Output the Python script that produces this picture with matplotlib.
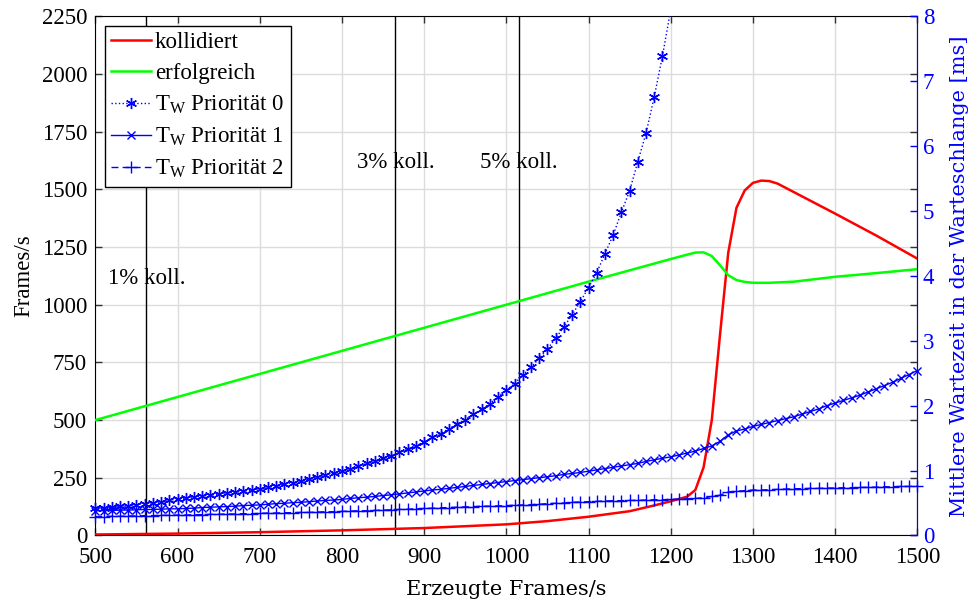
import matplotlib
matplotlib.use("Agg")
import matplotlib.pyplot as plt
from matplotlib.transforms import Bbox, TransformedBbox
import numpy as np

plt.rcParams['font.family'] = ['Liberation Serif', 'DejaVu Serif']
plt.rcParams['mathtext.fontset'] = 'custom'
plt.rcParams['mathtext.rm'] = 'Liberation Serif'
plt.rcParams['mathtext.it'] = 'Liberation Serif:italic'

# ---------------- data ----------------
red_x = [500, 550, 600, 650, 700, 750, 800, 850, 900, 950, 1000, 1050, 1100, 1150, 1180,
         1200, 1220, 1230, 1240, 1250, 1260, 1270, 1280, 1290, 1300, 1310, 1320, 1330,
         1400, 1450, 1500]
red_y = [4, 6, 8, 11, 14, 18, 22, 27, 32, 40, 48, 62, 81, 105, 130,
         148, 168, 197, 295, 500, 870, 1225, 1420, 1495, 1528, 1538, 1536, 1525,
         1395, 1300, 1200]

green_x = [500, 600, 700, 800, 900, 1000, 1100, 1200, 1220, 1230, 1240, 1250, 1260,
           1270, 1280, 1290, 1300, 1320, 1350, 1400, 1450, 1500]
green_y = [500, 600, 700, 800, 900, 1000, 1100, 1198, 1217, 1226, 1227, 1211, 1171,
           1128, 1107, 1099, 1095, 1095, 1100, 1121, 1137, 1154]

p0_x = list(range(500, 1201, 10))
p0_y = [0.42, 0.43, 0.44, 0.45, 0.46, 0.475, 0.49, 0.50, 0.52, 0.54,
        0.56, 0.575, 0.59, 0.605, 0.62, 0.635, 0.65, 0.665, 0.68, 0.695,
        0.715, 0.74, 0.765, 0.79, 0.815, 0.84, 0.87, 0.90, 0.93, 0.96,
        0.99, 1.03, 1.07, 1.11, 1.15, 1.19, 1.23, 1.28, 1.33, 1.38,
        1.44, 1.51, 1.57, 1.645, 1.715, 1.785, 1.87, 1.945, 2.03, 2.14,
        2.24, 2.34, 2.47, 2.59, 2.73, 2.87, 3.04, 3.21, 3.40, 3.60,
        3.82, 4.05, 4.34, 4.63, 4.98, 5.31, 5.76, 6.20, 6.76, 7.39,
        8.10]

p12_x = list(range(500, 1501, 10))
p1_y = [0.38, 0.38, 0.385, 0.39, 0.39, 0.395, 0.40, 0.40, 0.405, 0.41,
        0.41, 0.415, 0.42, 0.43, 0.435, 0.44, 0.445, 0.45, 0.46, 0.465,
        0.47, 0.48, 0.49, 0.495, 0.505, 0.51, 0.52, 0.53, 0.54, 0.545,
        0.555, 0.57, 0.58, 0.59, 0.60, 0.615, 0.625, 0.64, 0.655, 0.67,
        0.685, 0.70, 0.71, 0.725, 0.74, 0.755, 0.77, 0.785, 0.80, 0.815,
        0.83, 0.845, 0.86, 0.875, 0.89, 0.905, 0.92, 0.94, 0.955, 0.97,
        0.99, 1.01, 1.03, 1.05, 1.07, 1.09, 1.11, 1.14, 1.165, 1.19,
        1.21, 1.24, 1.27, 1.30, 1.34, 1.38, 1.45, 1.55, 1.61, 1.64,
        1.68, 1.71, 1.74, 1.77, 1.80, 1.83, 1.87, 1.91, 1.95, 2.00,
        2.04, 2.08, 2.12, 2.16, 2.21, 2.26, 2.31, 2.36, 2.42, 2.48,
        2.54]
p2_y = [0.29, 0.29, 0.295, 0.295, 0.30, 0.30, 0.305, 0.305, 0.31, 0.31,
        0.315, 0.315, 0.32, 0.32, 0.325, 0.325, 0.33, 0.33, 0.335, 0.335,
        0.34, 0.345, 0.345, 0.35, 0.35, 0.355, 0.355, 0.36, 0.365, 0.365,
        0.37, 0.375, 0.38, 0.38, 0.385, 0.39, 0.395, 0.40, 0.405, 0.41,
        0.415, 0.42, 0.425, 0.43, 0.435, 0.44, 0.445, 0.45, 0.45, 0.455,
        0.46, 0.465, 0.47, 0.475, 0.48, 0.49, 0.495, 0.50, 0.51, 0.515,
        0.52, 0.525, 0.53, 0.535, 0.535, 0.54, 0.54, 0.545, 0.55, 0.55,
        0.555, 0.56, 0.565, 0.57, 0.58, 0.60, 0.62, 0.67, 0.68, 0.69,
        0.70, 0.70, 0.705, 0.71, 0.715, 0.72, 0.72, 0.725, 0.725, 0.73,
        0.73, 0.735, 0.735, 0.74, 0.74, 0.745, 0.75, 0.75, 0.755, 0.755,
        0.76]

koll_x = [562, 865, 1015]
koll_labels = ['1% koll.', '3% koll.', '5% koll.']
koll_text_y = [1115, 1617, 1617]

x_ticks = list(range(500, 1501, 100))
y_ticks = list(range(0, 2251, 250))
y2_ticks = list(range(0, 9))

# ---------------- figure ----------------
fig = plt.figure(figsize=(9.68, 6.05), dpi=100)
ax = fig.add_axes([0.0985, 0.115, 0.8491, 0.858])
ax2 = ax.twinx()

FS = 16.5          # tick labels, legend, annotations
LFS = 15           # axis labels (wider serif face)
LFAM = ['DejaVu Serif']

ax.set_xlim(500, 1500)
ax.set_ylim(0, 2250)
ax2.set_ylim(0, 8)

ax.set_xticks(x_ticks)
ax.set_yticks(y_ticks)
ax2.set_yticks(y2_ticks)
ax.grid(True, color='#dcdcdc', linewidth=1.0)
ax.set_axisbelow(True)

for xv in koll_x:
    ax.axvline(xv, color='black', linewidth=1.0, zorder=2)
for xv, lab, yv in zip(koll_x, koll_labels, koll_text_y):
    ax.text(xv, yv, lab, ha='center', va='center', fontsize=FS, zorder=3)

l_red, = ax.plot(red_x, red_y, color='#ff0000', linewidth=1.8, label='kollidiert', zorder=4)
l_green, = ax.plot(green_x, green_y, color='#00ff00', linewidth=1.8, label='erfolgreich', zorder=4)

blue = '#0000ff'
l_p0, = ax2.plot(p0_x, p0_y, color=blue, linestyle=':', linewidth=1.0,
                 marker=(6, 2, 0), markersize=8, markeredgewidth=1.0,
                 label=r'T$_\mathrm{W}$ Priorität 0')
l_p1, = ax2.plot(p12_x, p1_y, color=blue, linestyle='-', linewidth=1.0,
                 marker='x', markersize=6, markeredgewidth=1.0,
                 label=r'T$_\mathrm{W}$ Priorität 1')
l_p2, = ax2.plot(p12_x, p2_y, color=blue, linestyle=(0, (5, 3)), linewidth=1.0,
                 marker='+', markersize=8, markeredgewidth=1.0,
                 label=r'T$_\mathrm{W}$ Priorität 2')
clipbox = TransformedBbox(Bbox([[-0.03, 0.0], [1.03, 1.0]]), ax2.transAxes)
for ln in (l_p0, l_p1, l_p2):
    ln.set_clip_box(clipbox)

ax.set_xlabel('Erzeugte Frames/s', fontsize=LFS, family=LFAM, labelpad=9)
ax.set_ylabel('Frames/s', fontsize=FS, labelpad=5)
ax2.set_ylabel('Mittlere Wartezeit in der Warteschlange [ms]', fontsize=LFS, family=LFAM,
               color=blue, labelpad=11)

ax.tick_params(axis='both', which='both', direction='in', top=True, right=True,
               labelsize=FS, length=5, width=1, color='#333333')
ax.tick_params(axis='x', pad=8)
ax.tick_params(axis='y', pad=6, right=True, labelright=False)
ax2.tick_params(axis='y', direction='in', colors=blue, labelsize=FS, length=5, width=1, pad=4)
for s in ['left', 'bottom', 'top']:
    ax.spines[s].set_color('black')
ax2.spines['right'].set_color(blue)
ax2.spines['left'].set_visible(False)
ax2.spines['top'].set_visible(False)
ax2.spines['bottom'].set_visible(False)

ax2.set_zorder(ax.get_zorder() + 1)
ax2.patch.set_visible(False)

handles = [l_red, l_green, l_p0, l_p1, l_p2]
leg = ax2.legend(handles=handles, loc='upper left', fontsize=FS, fancybox=False,
                 edgecolor='black', framealpha=1.0, borderaxespad=0.4,
                 handlelength=1.75, handletextpad=0.15, labelspacing=0.42,
                 borderpad=0.3, markerscale=1.0)
leg.get_frame().set_linewidth(1.0)
leg.set_zorder(10)

fig.savefig('out.png', dpi=100)
